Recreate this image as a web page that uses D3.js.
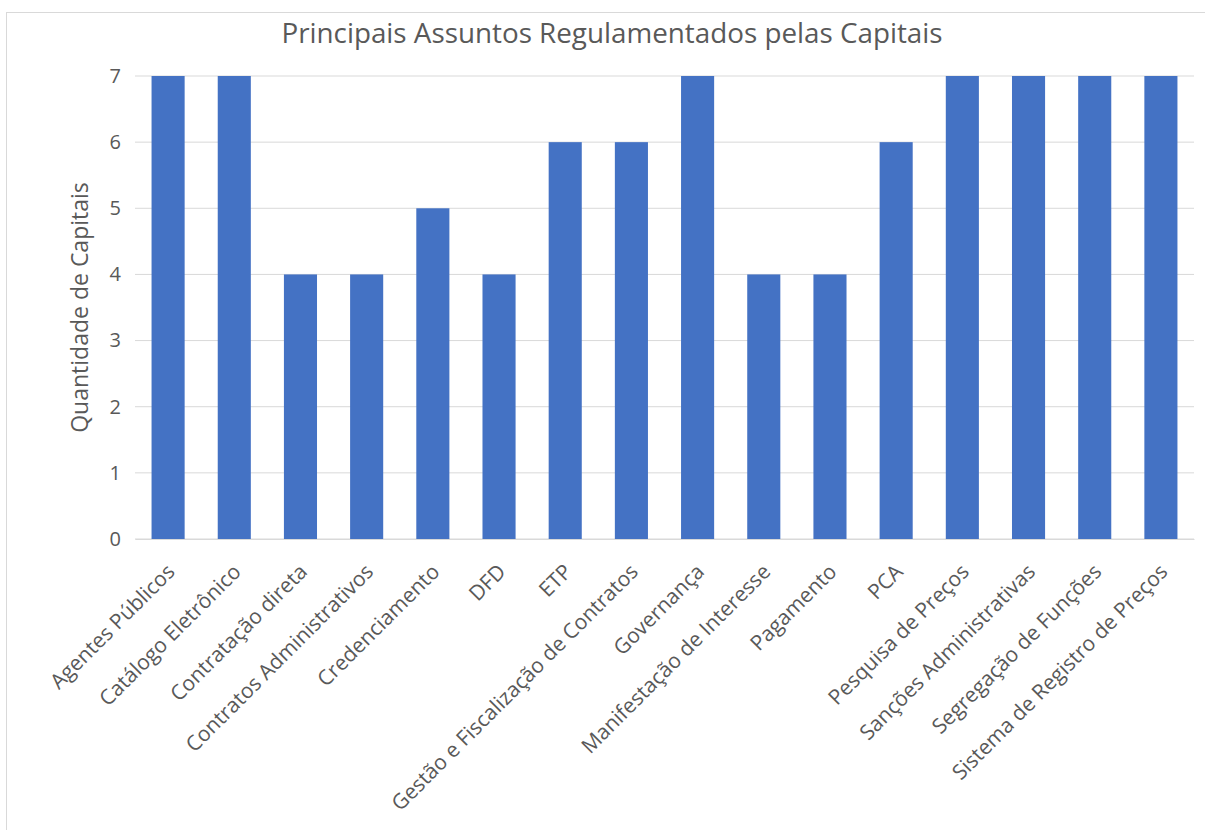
<!DOCTYPE html>
<html><head><meta charset="utf-8">
<script src="https://cdn.jsdelivr.net/npm/d3@7"></script>
<style>body{margin:0;background:#fff;} text{font-family:"Open Sans",sans-serif;}</style>
</head><body>
<svg id="c" width="1205" height="830"></svg>
<script>
const categories = ["Agentes Públicos","Catálogo Eletrônico","Contratação direta","Contratos Administrativos","Credenciamento","DFD","ETP","Gestão e Fiscalização de Contratos","Governança","Manifestação de Interesse","Pagamento","PCA","Pesquisa de Preços","Sanções Administrativas","Segregação de Funções","Sistema de Registro de Preços"];
const values = [7,7,4,4,5,4,6,6,7,4,4,6,7,7,7,7];
const yTicks = [0,1,2,3,4,5,6,7];
const title = "Principais Assuntos Regulamentados pelas Capitais";
const yLabel = "Quantidade de Capitais";

const svg = d3.select("#c");
svg.append("rect").attr("x",6.5).attr("y",12.5).attr("width",1220).attr("height",830)
  .attr("fill","#fff").attr("stroke","#d9d9d9");

const L=135, R=1194, T=76, B=539;
const x = d3.scaleBand().domain(categories).range([L,R]).paddingInner(0.5).paddingOuter(0.25);
const y = d3.scaleLinear().domain([0,7]).range([B,T]);

// gridlines
svg.append("g").selectAll("line").data(yTicks).join("line")
  .attr("x1",L).attr("x2",R).attr("y1",d=>y(d)).attr("y2",d=>y(d))
  .attr("stroke","#d9d9d9").attr("stroke-width",1);

// y axis labels
const ya = svg.append("g").attr("transform",`translate(${L},0)`)
  .call(d3.axisLeft(y).tickValues(yTicks).tickFormat(d3.format("d")).tickSize(0).tickPadding(14));
ya.select(".domain").remove();
ya.selectAll("text").attr("font-size",20).attr("fill","#595959").attr("font-family","Open Sans");

// bars
svg.append("g").selectAll("rect").data(values).join("rect")
  .attr("x",(d,i)=>x(categories[i])).attr("width",x.bandwidth())
  .attr("y",d=>y(d)).attr("height",d=>B-y(d)).attr("fill","#4472c4");

// x axis labels
const xa = svg.append("g").attr("transform",`translate(0,${B})`)
  .call(d3.axisBottom(x).tickSize(0).tickPadding(0));
xa.select(".domain").attr("stroke","#d9d9d9");
xa.selectAll("text").attr("font-size",21).attr("fill","#595959").attr("font-family","Open Sans")
  .attr("text-anchor","end").attr("dy",null)
  .attr("transform","translate(8,34) rotate(-45)");

// title
svg.append("text").attr("x",612).attr("y",43).attr("text-anchor","middle")
  .attr("font-size",27.8).attr("fill","#595959").text(title);

// y label
svg.append("text").attr("transform",`translate(88,${(T+B)/2}) rotate(-90)`)
  .attr("text-anchor","middle").attr("font-size",23).attr("fill","#595959").text(yLabel);
</script>
</body></html>
